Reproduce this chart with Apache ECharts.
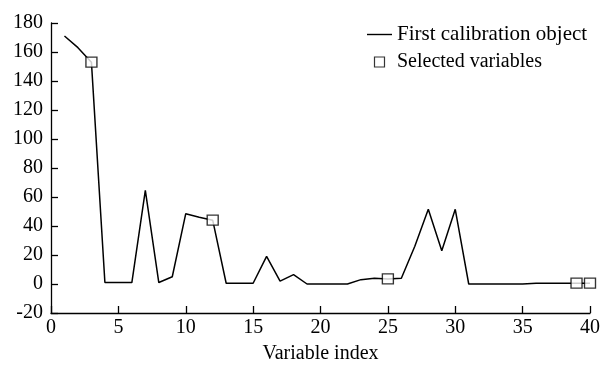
<!DOCTYPE html>
<html>
<head>
<meta charset="utf-8">
<script src="https://cdn.jsdelivr.net/npm/echarts@6/dist/echarts.min.js"></script>
<style>
html,body{margin:0;padding:0;background:#fff;}
#chart{width:603px;height:374px;}
</style>
</head>
<body>
<div id="chart"></div>
<script>
// Data
const variableIndex = [1,2,3,4,5,6,7,8,9,10,11,12,13,14,15,16,17,18,19,20,21,22,23,24,25,26,27,28,29,30,31,32,33,34,35,36,37,38,39,40];
const calibrationValues = [171,163,153,1,1,1,64.5,1,5,48.5,46,44,0.5,0.5,0.5,19,2,6.5,0,0,0,0,3,4,3.5,4,26,51.5,23,51.5,0,0,0,0,0,0.6,0.6,0.6,0.6,0.6];
const selectedIndex = [3,12,25,39,40];
const selectedValues = [153,44,3.5,0.6,0.6];
const xTicks = [0,5,10,15,20,25,30,35,40];
const yTicks = [-20,0,20,40,60,80,100,120,140,160,180];

const lineData = variableIndex.map((x,i)=>[x,calibrationValues[i]]);
const scatterData = selectedIndex.map((x,i)=>[x,selectedValues[i]]);

const FONT = '"Liberation Serif","Times New Roman",serif';
const chart = echarts.init(document.getElementById('chart'), null, {renderer:'canvas'});
chart.setOption({
  animation:false,
  backgroundColor:'#fff',
  grid:{left:51,right:10,top:23,bottom:61,containLabel:false},
  legend:{
    orient:'vertical',
    left:367, top:24, padding:0,
    itemWidth:25, itemHeight:10, itemGap:7,
    symbolKeepAspect:true,
    textStyle:{fontFamily:FONT,fontSize:20,color:'#000'},
    data:[
      {name:'First calibration object', icon:'path://M0,0H25V1.4H0Z', itemStyle:{color:'#000',borderWidth:0}, textStyle:{fontSize:21}},
      {name:'Selected variables', icon:'path://M0,0H10V10H0Z', itemStyle:{color:'#fff',borderColor:'#000',borderWidth:1.2}}
    ]
  },
  xAxis:{
    type:'value', min:xTicks[0], max:xTicks[xTicks.length-1], interval:5,
    name:'Variable index', nameLocation:'middle', nameGap:31,
    nameTextStyle:{fontFamily:FONT,fontSize:20,color:'#000'},
    axisLine:{onZero:false,lineStyle:{color:'#000',width:1.3}},
    axisTick:{inside:true,length:7,lineStyle:{color:'#000',width:1.3}},
    axisLabel:{fontFamily:FONT,fontSize:20,color:'#000',margin:5},
    splitLine:{show:false}
  },
  yAxis:{
    type:'value', min:yTicks[0], max:yTicks[yTicks.length-1], interval:20,
    axisLine:{show:true,onZero:false,lineStyle:{color:'#000',width:1.3}},
    axisTick:{show:true,inside:true,length:7,lineStyle:{color:'#000',width:1.3}},
    axisLabel:{fontFamily:FONT,fontSize:20,color:'#000',margin:8},
    splitLine:{show:false}
  },
  series:[
    {
      name:'First calibration object', type:'line', data:lineData,
      symbol:'none', lineStyle:{color:'#000',width:1.5}, itemStyle:{color:'#000'},
      z:2
    },
    {
      name:'Selected variables', type:'scatter', data:scatterData,
      symbol:'rect', symbolSize:[11,10],
      itemStyle:{color:'#fff',borderColor:'#000',borderWidth:1.3},
      z:3
    }
  ]
});
</script>
</body>
</html>
